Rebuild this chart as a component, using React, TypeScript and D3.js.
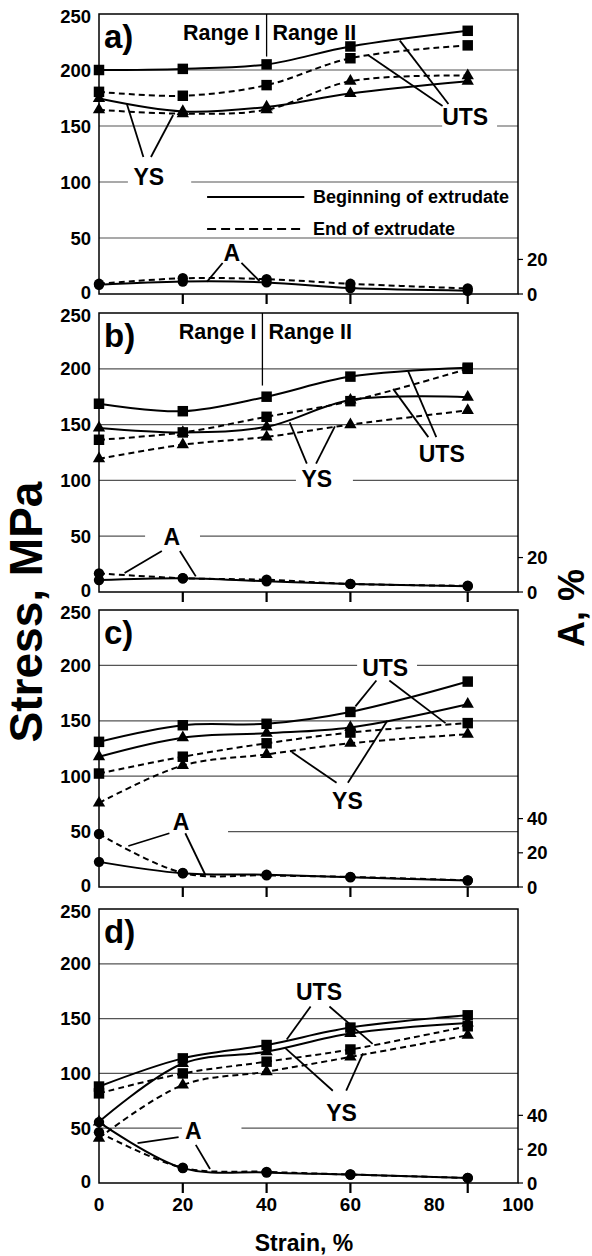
import React from 'react';
import * as d3 from 'd3';

// strain levels, %
const STRAIN = [0, 20, 40, 60, 88];
const X_TICKS = [0, 20, 40, 60, 80, 100];
const STRESS_TICKS = [0, 50, 100, 150, 200, 250];
const GRID_TICKS = [50, 100, 150, 200];
const PANEL_NAMES = ['a)', 'b)', 'c)', 'd)'];
const A_TICKS = [[0, 20], [0, 20], [0, 20, 40], [0, 20, 40]];

// stress, MPa - one row per panel (a..d)
const UTS_BEGIN = [
  [200, 201, 205, 221, 235],
  [168.7, 162, 175, 193, 201],
  [131, 146, 147.3, 158, 185.4],
  [88, 113.7, 125.9, 141.8, 153],
];
const UTS_END = [
  [180.5, 177, 186.5, 210.5, 222],
  [136.4, 143, 157, 171, 200],
  [102.4, 117.6, 129.7, 139.4, 147.9],
  [81.8, 100, 110.7, 121.8, 143],
];
const YS_BEGIN = [
  [174.5, 163, 167, 179, 190],
  [147, 143, 148, 172, 174.6],
  [117.6, 134.8, 138.8, 144, 165],
  [55.8, 109, 119.8, 136.4, 146],
];
const YS_END = [
  [164.5, 161, 164.5, 190, 195],
  [119.4, 132, 139, 150, 162.7],
  [75.8, 109.7, 119.7, 129.7, 137.9],
  [41, 89.4, 101.6, 115, 134.8],
];
// elongation A, %
const A_BEGIN = [
  [5.3, 7.2, 6.7, 3.4, 1.9],
  [6.9, 8.0, 6.2, 4.7, 3.4],
  [14.7, 8.0, 7.2, 5.7, 3.8],
  [36, 8.8, 6.2, 5, 3],
];
const A_END = [
  [5.9, 9.1, 8.6, 5.9, 3.2],
  [10.8, 8.0, 7.1, 4.7, 3.6],
  [31, 8.2, 6.8, 5.9, 3.9],
  [30, 9, 6.6, 5, 3],
];

// range boundary (panels a, b): strain, lower end in MPa
const RANGE_X = [40, 39];
const RANGE_LOW = [212, 185];

// callout labels: panel, text, strain, stress, white box span (strain)
const LABELS = [
  { p: 0, t: 'YS', x: 11.9, y: 104.5, gap: [6.9, 22] },
  { p: 0, t: 'UTS', x: 87.4, y: 157.8, gap: [81.9, 95] },
  { p: 0, t: 'A', x: 31.7, y: 36.6 },
  { p: 1, t: 'YS', x: 52, y: 101.5, gap: [47, 60.6] },
  { p: 1, t: 'UTS', x: 81.8, y: 123.3 },
  { p: 1, t: 'A', x: 17.4, y: 49.3, gap: [11, 24.1] },
  { p: 2, t: 'UTS', x: 68.3, y: 198, gap: [61.6, 75.9] },
  { p: 2, t: 'YS', x: 59.3, y: 77.3 },
  { p: 2, t: 'A', x: 19.6, y: 59, gap: [0, 30.8] },
  { p: 3, t: 'UTS', x: 52.5, y: 174 },
  { p: 3, t: 'YS', x: 57.9, y: 63.6 },
  { p: 3, t: 'A', x: 22.5, y: 47, gap: [19.8, 34] },
];

// leader lines: panel, x1, y1, x2, y2 (strain, MPa)
const POINTERS = [
  [0, 10.6, 122.3, 6.6, 170.3],
  [0, 12.4, 122.3, 17.7, 159.8],
  [0, 82, 167.9, 64.2, 213.4],
  [0, 83.4, 169.6, 71.8, 226.2],
  [0, 29.5, 27.7, 25.8, 11],
  [0, 34, 27.7, 38.3, 11.6],
  [1, 49.6, 115, 45.5, 152],
  [1, 51.8, 115, 56.3, 148.4],
  [1, 78.6, 138.8, 70.2, 182],
  [1, 80.5, 138.8, 73.8, 197.6],
  [1, 15, 36.7, 6.1, 17],
  [1, 19.3, 36.7, 23.1, 14],
  [2, 66.2, 186.4, 61.2, 163],
  [2, 69.3, 186.4, 82.7, 147.9],
  [2, 56.7, 94, 46, 121.8],
  [2, 59.4, 94, 68.8, 150],
  [2, 16.8, 48.5, 7, 37],
  [2, 20.6, 48.5, 25.3, 11.5],
  [3, 50.5, 161, 44.8, 131],
  [3, 55, 161, 65.3, 127],
  [3, 55.8, 84.2, 44.4, 123.3],
  [3, 59, 84.2, 63, 118.2],
  [3, 19, 41.8, 9.2, 36.4],
  [3, 23.1, 34.8, 26.5, 12.7],
];

const W = 592;
const H = 1256;
const LEFT = 99;
const RIGHT = 518;
const PANEL_TOP = [14, 313, 610, 909];
const PANEL_BOTTOM = [294, 592, 887, 1183];
const FONT = '"Liberation Sans", Arial, sans-serif';
const DASH = '6,4';

const x = d3.scaleLinear().domain([0, 100]).range([LEFT, RIGHT]);

const squarePath = d3.symbol(d3.symbolSquare, 110)()!;
const trianglePath = d3.symbol(d3.symbolTriangle, 66)()!;

// nudge the end labels so stacked panels do not collide
const tickDy = (v: number) => (v === 0 ? 4.5 : v === 250 ? 8.5 : 6.5);

const Panel: React.FC<{ i: number }> = ({ i }) => {
  const top = PANEL_TOP[i];
  const bottom = PANEL_BOTTOM[i];
  const y = d3.scaleLinear().domain([0, 250]).range([bottom, top]);
  const yA = d3.scaleLinear().domain([0, 162]).range([bottom, top]);

  const line = (vals: number[], sc: d3.ScaleLinear<number, number>) =>
    d3.line<number>()
      .x((_, k) => x(STRAIN[k]))
      .y(v => sc(v))
      .curve(d3.curveCatmullRom.alpha(0.5))(vals) || '';

  const series = [
    { vals: UTS_BEGIN[i], sc: y, dash: false, mark: 'sq' },
    { vals: UTS_END[i], sc: y, dash: true, mark: 'sq' },
    { vals: YS_BEGIN[i], sc: y, dash: false, mark: 'tri' },
    { vals: YS_END[i], sc: y, dash: true, mark: 'tri' },
    { vals: A_BEGIN[i], sc: yA, dash: false, mark: 'dot' },
    { vals: A_END[i], sc: yA, dash: true, mark: 'dot' },
  ];

  const labels = LABELS.filter(l => l.p === i);
  const pointers = POINTERS.filter(p => p[0] === i);

  return (
    <g>
      {GRID_TICKS.map(v => (
        <line key={v} x1={LEFT} x2={RIGHT} y1={y(v)} y2={y(v)} stroke="#555" strokeWidth={1.2} />
      ))}
      {labels.filter(l => l.gap).map((l, k) => (
        <rect key={k} x={x(l.gap![0])} width={x(l.gap![1]) - x(l.gap![0])}
          y={y(l.y) - 15} height={30} fill="#fff" />
      ))}
      <rect x={LEFT} y={top} width={RIGHT - LEFT} height={bottom - top}
        fill="none" stroke="#000" strokeWidth={1.5} />

      {STRESS_TICKS.map(v => (
        <text key={v} x={91} y={y(v) + tickDy(v)} textAnchor="end" fontSize={18.5} fontWeight="bold">{v}</text>
      ))}
      {A_TICKS[i].map(v => (
        <g key={v}>
          <line x1={RIGHT} x2={RIGHT + 5} y1={yA(v)} y2={yA(v)} stroke="#000" strokeWidth={1.2} />
          <text x={527} y={yA(v) + 6.5} fontSize={18.5} fontWeight="bold">{v}</text>
        </g>
      ))}
      {STRAIN.slice(1).map(s => (
        <line key={s} x1={x(s)} x2={x(s)} y1={bottom} y2={bottom + 10} stroke="#000" strokeWidth={2.2} />
      ))}

      <text x={104} y={top + 34} fontSize={33} fontWeight="bold">{PANEL_NAMES[i]}</text>

      {i < 2 && (
        <g fontSize={21.5} fontWeight="bold">
          <line x1={x(RANGE_X[i])} x2={x(RANGE_X[i])} y1={top} y2={y(RANGE_LOW[i])} stroke="#000" strokeWidth={1.3} />
          <text x={x(RANGE_X[i]) - 6} y={top + 26} textAnchor="end">Range I</text>
          <text x={x(RANGE_X[i]) + 6} y={top + 26}>Range II</text>
        </g>
      )}

      {series.map((s, k) => (
        <path key={k} d={line(s.vals, s.sc)} fill="none" stroke="#000" strokeWidth={2}
          strokeDasharray={s.dash ? DASH : undefined} />
      ))}
      {series.map((s, k) => (
        <g key={k}>
          {s.vals.map((v, j) => {
            const cx = x(STRAIN[j]);
            const cy = s.sc(v);
            if (s.mark === 'dot') return <circle key={j} cx={cx} cy={cy} r={5.2} fill="#000" />;
            return <path key={j} d={s.mark === 'sq' ? squarePath : trianglePath}
              transform={`translate(${cx},${cy})`} fill="#000" />;
          })}
        </g>
      ))}

      {pointers.map((p, k) => (
        <line key={k} x1={x(p[1])} y1={y(p[2])} x2={x(p[3])} y2={y(p[4])} stroke="#000" strokeWidth={1.8} />
      ))}
      {labels.map((l, k) => (
        <text key={k} x={x(l.x)} y={y(l.y) + 8} textAnchor="middle" fontSize={23} fontWeight="bold">{l.t}</text>
      ))}

      {i === 0 && (
        <g fontSize={18} fontWeight="bold">
          <line x1={x(25.8)} x2={x(49)} y1={y(86.6)} y2={y(86.6)} stroke="#000" strokeWidth={2} />
          <text x={x(51.1)} y={y(86.6) + 6}>Beginning of extrudate</text>
          <line x1={x(25.8)} x2={x(49)} y1={y(58)} y2={y(58)} stroke="#000" strokeWidth={2} strokeDasharray="9,5" />
          <text x={x(51.1)} y={y(58) + 6}>End of extrudate</text>
        </g>
      )}

      {i === 3 && X_TICKS.map(v => (
        <text key={v} x={x(v)} y={bottom + 28} textAnchor="middle" fontSize={19} fontWeight="bold">{v}</text>
      ))}
    </g>
  );
};

const App: React.FC = () => (
  <svg width={W} height={H} viewBox={`0 0 ${W} ${H}`}
    style={{ position: 'absolute', left: 0, top: 0, background: '#fff' }}
    fontFamily={FONT}>
    <rect width={W} height={H} fill="#fff" />
    {PANEL_TOP.map((_, i) => <Panel key={i} i={i} />)}
    <text transform="translate(42,612) rotate(-90)" textAnchor="middle" fontSize={46} fontWeight="bold">Stress, MPa</text>
    <text transform="translate(584,608) rotate(-90)" textAnchor="middle" fontSize={36} fontWeight="bold">A, %</text>
    <text x={304} y={1251} textAnchor="middle" fontSize={23} fontWeight="bold">Strain, %</text>
  </svg>
);

export default App;
